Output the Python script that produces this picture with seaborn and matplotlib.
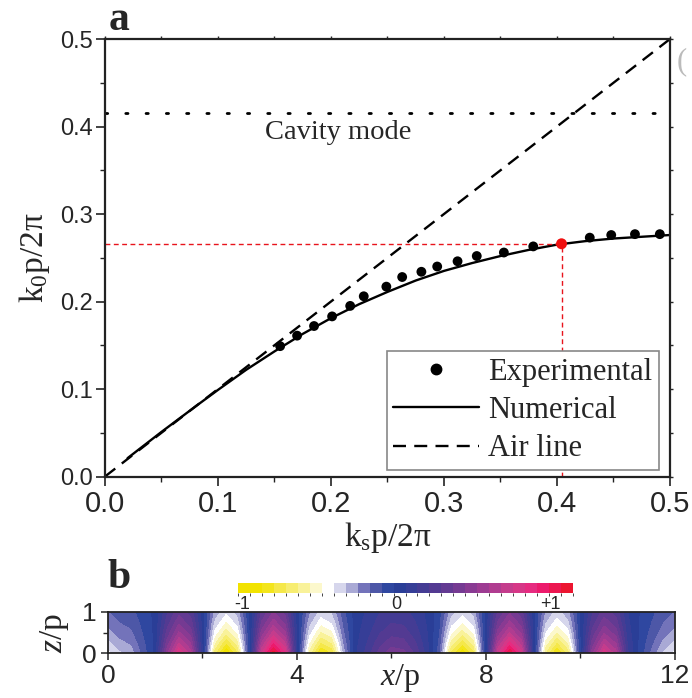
import numpy as np
import matplotlib
matplotlib.use("Agg")
import matplotlib.pyplot as plt
from matplotlib.colors import ListedColormap, BoundaryNorm
from matplotlib.lines import Line2D
from matplotlib.ticker import FixedLocator, FormatStrFormatter
import seaborn as sns

# ---------------- data ----------------
# measured dispersion (experimental points)
exp_ks = [0.155, 0.170, 0.185, 0.201, 0.217, 0.229, 0.249, 0.263, 0.280,
          0.294, 0.312, 0.329, 0.353, 0.379, 0.429, 0.448, 0.469, 0.491]
exp_k0 = [0.149, 0.161, 0.172, 0.183, 0.195, 0.206, 0.217, 0.228, 0.234,
          0.240, 0.246, 0.252, 0.256, 0.263, 0.273, 0.276, 0.277, 0.277]

# highlighted operating point
sel_ks = [0.404]
sel_k0 = [0.266]

# simulated dispersion curve
num_ks = [0.02, 0.05, 0.08, 0.10, 0.125, 0.15, 0.175, 0.20, 0.225, 0.25,
          0.275, 0.30, 0.325, 0.35, 0.375, 0.40, 0.425, 0.45, 0.475, 0.50]
num_k0 = [0.021, 0.051, 0.080, 0.099, 0.122, 0.143, 0.163, 0.181, 0.197, 0.211,
          0.224, 0.235, 0.244, 0.252, 0.259, 0.265, 0.269, 0.272, 0.274, 0.276]

# light line
air_ks = [0.0, 0.5]
air_k0 = [0.0, 0.5]

# cavity resonance
cavity_k0 = 0.416

# tick values
a_ticks = [0.0, 0.1, 0.2, 0.3, 0.4, 0.5]
a_minor = [0.05, 0.15, 0.25, 0.35, 0.45]
b_xticks = [0, 4, 8, 12]
b_xminor = [2, 6, 10]
b_yticks = [0, 1]
b_yminor = [0.5]
cb_ticks = [-1, 0, 1]
cb_labels = ['-1', '0', '+1']

# near-field map (panel b): field at z = 0 along x, and decay with height
field_x = np.arange(0, 12.01, 0.25)
field_bottom = [-0.45, -0.35, -0.30, -0.15, 0.00, 0.50, 0.85, 0.65, 0.05,
                -0.70, -1.00, -0.75, -0.05, 0.75, 1.12, 0.85, 0.05,
                -0.60, -0.92, -0.80, -0.30, 0.05, 0.18, 0.33, 0.42,
                0.40, 0.28, 0.10, -0.15, -0.75, -0.97, -0.75, 0.00,
                0.75, 1.08, 0.80, 0.05, -0.65, -0.92, -0.70, -0.05,
                0.50, 0.82, 0.65, 0.15, -0.05, -0.20, -0.35, -0.45]
field_z = [0.0, 0.25, 0.5, 0.75, 1.0]
field_decay = [1.0, 0.80, 0.63, 0.50, 0.40]

field_colors = ['#f2e200', '#f2e300', '#f3e51c', '#f5e84a', '#f7ed70', '#f9f29a',
                '#fcf8cc', '#ffffff',
                '#d6d6ec', '#a9a9d5', '#7373ba', '#4d57a7', '#2f47a0', '#2a3e97',
                '#363e97', '#443c94', '#533a92', '#633a92', '#753a92', '#893a92',
                '#9d3b92', '#b03c90', '#c43c8c', '#d63787', '#e62b80', '#ec1a6c',
                '#ec1650', '#ec1530']

# ---------------- style ----------------
sns.set_style("ticks")
plt.rcParams['font.family'] = ['Liberation Sans', 'DejaVu Sans']
plt.rcParams['mathtext.fontset'] = 'custom'
plt.rcParams['mathtext.rm'] = 'Liberation Serif'
plt.rcParams['mathtext.it'] = 'Liberation Serif:italic'
plt.rcParams['mathtext.bf'] = 'Liberation Serif:bold'
plt.rcParams['mathtext.default'] = 'rm'
SERIF = 'Liberation Serif'
NARROW = ['Liberation Sans Narrow', 'Liberation Sans', 'DejaVu Sans']
INK = '#222222'

fig = plt.figure(figsize=(6.92, 6.98), dpi=100)

# ---------------- panel a ----------------
ax = fig.add_axes([0.1517, 0.3173, 0.8165, 0.6268])

sns.lineplot(x=air_ks, y=air_k0, ax=ax, color='black', lw=1.7,
             linestyle=(0, (5.5, 3.5)), sort=False, estimator=None, legend=False)
sns.lineplot(x=num_ks, y=num_k0, ax=ax, color='black', lw=1.7,
             sort=False, estimator=None, legend=False)
ax.plot([0.0, 0.5], [cavity_k0, cavity_k0], color='black', lw=2.0,
        linestyle=(0, (0.8, 6.5)), dash_capstyle='round')
ax.plot([0.0, sel_ks[0]], [sel_k0[0], sel_k0[0]], color='#e8141c', lw=1.0,
        linestyle=(0, (3.5, 2.5)))
ax.plot([sel_ks[0], sel_ks[0]], [0.0, sel_k0[0]], color='#e8141c', lw=1.0,
        linestyle=(0, (3.5, 2.5)))
sns.scatterplot(x=exp_ks, y=exp_k0, ax=ax, color='black', s=50,
                edgecolor='none', legend=False, zorder=5)
sns.scatterplot(x=sel_ks, y=sel_k0, ax=ax, color='#f01010', s=62,
                edgecolor='none', legend=False, zorder=6)

ax.text(0.1416, 0.3926, 'Cavity mode', family=SERIF, fontsize=20.5,
        va='center', ha='left')

ax.set_xlim(0, 0.5)
ax.set_ylim(0, 0.5)
for axis in (ax.xaxis, ax.yaxis):
    axis.set_major_locator(FixedLocator(a_ticks))
    axis.set_minor_locator(FixedLocator(a_minor))
    axis.set_major_formatter(FormatStrFormatter('%.1f'))
ax.tick_params(which='major', direction='out', length=6.5, width=1.2,
               color=INK, top=False, right=False)
ax.tick_params(which='minor', direction='out', length=3.6, width=1.0,
               color=INK)
ax.tick_params(axis='x', which='major', labelsize=21, pad=3)
ax.tick_params(axis='y', which='major', labelsize=17, pad=2)
for lab in ax.get_xticklabels():
    lab.set_family(NARROW)

# small ticks on the top and right frame
tax = ax.secondary_xaxis('top')
tax.xaxis.set_major_locator(FixedLocator(sorted(a_ticks + a_minor)))
tax.tick_params(direction='out', length=2.5, width=1.0, labeltop=False)
tax.spines['top'].set_visible(False)
rax = ax.secondary_yaxis('right')
rax.yaxis.set_major_locator(FixedLocator(sorted(a_ticks + a_minor)))
rax.tick_params(direction='out', length=2.5, width=1.0, labelright=False)
rax.spines['right'].set_visible(False)

for s in ax.spines.values():
    s.set_linewidth(1.6)
    s.set_color(INK)

ax.set_xlabel('k$_\\mathrm{s}$p/2π', family=SERIF, fontsize=24, labelpad=2)
ax.set_ylabel('k$_\\mathrm{0}$p/2π', family=SERIF, fontsize=24, labelpad=6)

handles = [
    Line2D([], [], marker='o', color='black', ls='none', markersize=7.5),
    Line2D([], [], color='black', lw=1.7),
    Line2D([], [], color='black', lw=1.7, linestyle=(0, (5.5, 3.5))),
]
leg = ax.legend(handles, ['Experimental', 'Numerical', 'Air line'],
                loc='lower right', bbox_to_anchor=(0.9523, 0.3266),
                bbox_transform=fig.transFigure, prop={'family': SERIF, 'size': 22},
                frameon=True, fancybox=False, framealpha=1, edgecolor='#888888',
                handlelength=2.8, handletextpad=0.3, labelspacing=0.3,
                borderpad=0.22, borderaxespad=0)
leg.get_frame().set_linewidth(1.2)

fig.text(0.157, 0.972, 'a', family=SERIF, fontsize=30, fontweight='bold',
         ha='left', va='center')
fig.text(0.978, 0.912, '(', family=SERIF, fontsize=22, color='#bbbbbb',
         ha='left', va='center')

# ---------------- panel b ----------------
bx = fig.add_axes([0.156, 0.064, 0.8194, 0.0596])
Z = np.outer(field_decay, field_bottom)
levels = np.linspace(-1.03, 1.15, len(field_colors) + 1)
cmap = ListedColormap(field_colors)
norm = BoundaryNorm(levels, cmap.N)
cf = bx.contourf(field_x, field_z, Z, levels=levels, cmap=cmap, norm=norm)
bx.set_xlim(0, 12)
bx.set_ylim(0, 1)
bx.xaxis.set_major_locator(FixedLocator(b_xticks))
bx.xaxis.set_minor_locator(FixedLocator(b_xminor))
bx.yaxis.set_major_locator(FixedLocator(b_yticks))
bx.yaxis.set_minor_locator(FixedLocator(b_yminor))
bx.tick_params(which='major', direction='out', length=5, width=1.1,
               labelsize=19, pad=3)
bx.tick_params(which='minor', direction='out', length=3.5, width=1.0)
for s in bx.spines.values():
    s.set_linewidth(1.3)
    s.set_color(INK)
bx.set_xlabel('$\\it{x}$/p', family=SERIF, fontsize=23)
bx.xaxis.set_label_coords(0.515, -0.22)
bx.set_ylabel('$\\it{z}$/p', family=SERIF, fontsize=24, labelpad=8)

cax = fig.add_axes([0.344, 0.150, 0.484, 0.0143])
cb = fig.colorbar(cf, cax=cax, orientation='horizontal')
cb.outline.set_visible(False)
cb.set_ticks(cb_ticks)
cb.set_ticklabels(cb_labels)
cax.tick_params(length=0, labelsize=13, pad=2)

fig.text(0.155, 0.172, 'b', family=SERIF, fontsize=30, fontweight='bold',
         ha='left', va='center')

fig.savefig('out.png', dpi=100)
